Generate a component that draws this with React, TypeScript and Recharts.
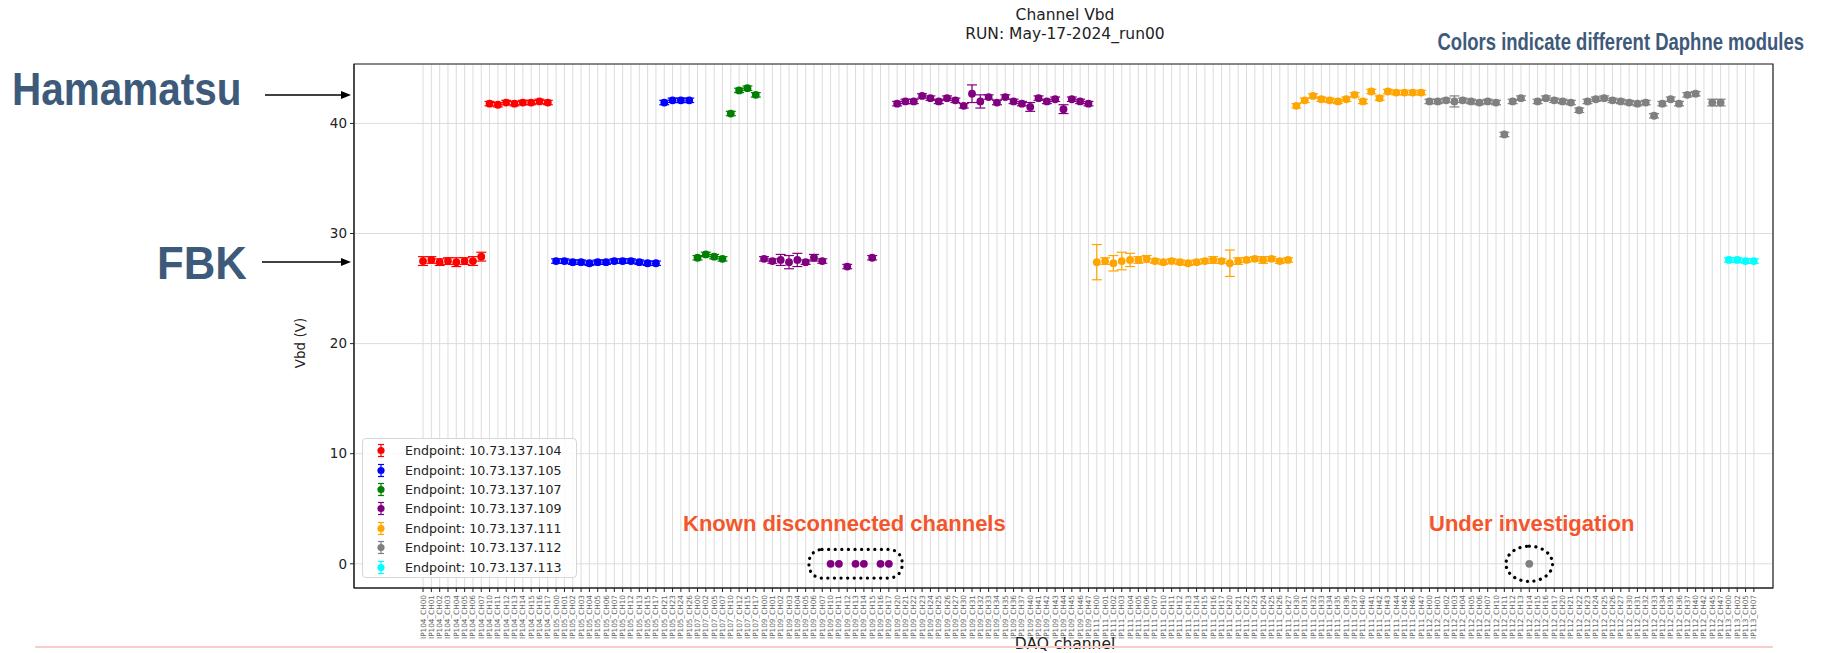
import { CartesianGrid, ErrorBar, ReferenceArea, Scatter, ScatterChart, XAxis, YAxis } from "recharts";

// channels per endpoint, in the order they sit along the x axis
const ip104Channels = ["CH00", "CH01", "CH02", "CH03", "CH04", "CH05", "CH06", "CH07", "CH10", "CH11", "CH12", "CH13", "CH14", "CH15", "CH16", "CH17"];
const ip105Channels = ["CH00", "CH01", "CH02", "CH03", "CH04", "CH05", "CH06", "CH07", "CH10", "CH12", "CH13", "CH15", "CH17", "CH21", "CH23", "CH24", "CH26"];
const ip107Channels = ["CH00", "CH02", "CH05", "CH07", "CH10", "CH12", "CH15", "CH17"];
const ip109Channels = [
  "CH00", "CH01", "CH02", "CH03", "CH04", "CH05", "CH06", "CH07",
  "CH10", "CH11", "CH12", "CH13", "CH14", "CH15", "CH16", "CH17",
  "CH20", "CH21", "CH22", "CH23", "CH24", "CH25", "CH26", "CH27",
  "CH30", "CH31", "CH32", "CH33", "CH34", "CH35", "CH36", "CH37",
  "CH40", "CH41", "CH42", "CH43", "CH44", "CH45", "CH46", "CH47",
];
const ip111Channels = [
  "CH00", "CH01", "CH02", "CH03", "CH04", "CH05", "CH06", "CH07",
  "CH10", "CH11", "CH12", "CH13", "CH14", "CH15", "CH16", "CH17",
  "CH20", "CH21", "CH22", "CH23", "CH24", "CH25", "CH26", "CH27",
  "CH30", "CH31", "CH32", "CH33", "CH34", "CH35", "CH36", "CH37",
  "CH40", "CH41", "CH42", "CH43", "CH44", "CH45", "CH46", "CH47",
];
const ip112Channels = [
  "CH00", "CH01", "CH02", "CH03", "CH04", "CH05", "CH06", "CH07",
  "CH10", "CH11", "CH12", "CH13", "CH14", "CH15", "CH16", "CH17",
  "CH20", "CH21", "CH22", "CH23", "CH24", "CH25", "CH26", "CH27",
  "CH30", "CH31", "CH32", "CH33", "CH34", "CH35", "CH36", "CH37",
  "CH40", "CH42", "CH45", "CH47",
];
const ip113Channels = ["CH00", "CH02", "CH05", "CH07"];

// breakdown voltage (V) per channel, null = no fit
const ip104Vbd = [27.5, 27.6, 27.4, 27.5, 27.4, 27.5, 27.5, 27.9, 41.8, 41.7, 41.9, 41.8, 41.9, 41.9, 42.0, 41.9];
const ip105Vbd = [27.5, 27.5, 27.4, 27.4, 27.3, 27.4, 27.4, 27.5, 27.5, 27.5, 27.4, 27.3, 27.3, 41.9, 42.1, 42.1, 42.1];
const ip107Vbd = [27.8, 28.1, 27.9, 27.7, 40.9, 43.0, 43.2, 42.6];
const ip109Vbd = [
  27.7, 27.5, 27.6, 27.4, 27.6, 27.4, 27.8, 27.5,
  0, 0, 27.0, 0, 0, 27.8, 0, 0,
  41.8, 42.0, 42.0, 42.5, 42.3, 42.0, 42.3, 42.1,
  41.6, 42.7, 42.0, 42.4, 41.9, 42.4, 42.0, 41.8,
  41.5, 42.3, 42.0, 42.2, 41.3, 42.2, 42.0, 41.8,
];
const ip111Vbd = [
  27.4, 27.5, 27.3, 27.5, 27.6, 27.6, 27.7, 27.5,
  27.4, 27.5, 27.4, 27.3, 27.4, 27.5, 27.6, 27.5,
  27.3, 27.5, 27.6, 27.7, 27.6, 27.7, 27.5, 27.6,
  41.6, 42.1, 42.5, 42.2, 42.1, 42.0, 42.2, 42.6,
  42.0, 42.9, 42.3, 42.9, 42.8, 42.8, 42.8, 42.8,
];
const ip112Vbd = [
  42.0, 42.0, 42.1, 42.0, 42.1, 42.0, 41.9, 42.0,
  41.9, 39.0, 42.0, 42.3, 0, 42.0, 42.3, 42.1,
  42.0, 41.9, 41.2, 42.0, 42.2, 42.3, 42.1, 42.0,
  41.9, 41.8, 41.9, 40.7, 41.8, 42.2, 41.8, 42.6,
  42.7, null, 41.9, 41.9,
];
const ip113Vbd = [27.6, 27.6, 27.5, 27.5];

// fit uncertainty (V)
const ip104Err = [0.4, 0.3, 0.3, 0.3, 0.4, 0.3, 0.4, 0.4, 0.2, 0.2, 0.2, 0.2, 0.2, 0.2, 0.2, 0.2];
const ip105Err = [0.2, 0.2, 0.2, 0.2, 0.2, 0.2, 0.2, 0.2, 0.2, 0.2, 0.2, 0.2, 0.2, 0.2, 0.2, 0.2, 0.2];
const ip107Err = [0.2, 0.2, 0.2, 0.2, 0.2, 0.2, 0.2, 0.2];
const ip109Err = [
  0.2, 0.2, 0.5, 0.6, 0.6, 0.2, 0.3, 0.2,
  0, 0, 0.2, 0, 0, 0.2, 0, 0,
  0.2, 0.2, 0.2, 0.2, 0.2, 0.2, 0.2, 0.2,
  0.2, 0.8, 0.6, 0.2, 0.2, 0.2, 0.2, 0.2,
  0.4, 0.2, 0.2, 0.2, 0.4, 0.2, 0.2, 0.2,
];
const ip111Err = [
  1.6, 0.3, 0.7, 0.8, 0.6, 0.3, 0.3, 0.2,
  0.2, 0.2, 0.2, 0.2, 0.2, 0.2, 0.3, 0.2,
  1.2, 0.3, 0.2, 0.2, 0.3, 0.2, 0.2, 0.2,
  0.2, 0.2, 0.2, 0.2, 0.2, 0.2, 0.2, 0.2,
  0.2, 0.2, 0.2, 0.2, 0.2, 0.2, 0.2, 0.2,
];
const ip112Err = [
  0.2, 0.2, 0.2, 0.5, 0.2, 0.2, 0.2, 0.2,
  0.2, 0.2, 0.2, 0.2, 0, 0.2, 0.2, 0.2,
  0.2, 0.2, 0.2, 0.2, 0.2, 0.2, 0.2, 0.2,
  0.2, 0.2, 0.2, 0.2, 0.2, 0.2, 0.2, 0.2,
  0.2, 0, 0.3, 0.3,
];
const ip113Err = [0.2, 0.2, 0.2, 0.2];

const endpoints = [
  { tag: "IP104", name: "Endpoint: 10.73.137.104", color: "#ff0000", channels: ip104Channels, vbd: ip104Vbd, err: ip104Err },
  { tag: "IP105", name: "Endpoint: 10.73.137.105", color: "#0000ff", channels: ip105Channels, vbd: ip105Vbd, err: ip105Err },
  { tag: "IP107", name: "Endpoint: 10.73.137.107", color: "#008000", channels: ip107Channels, vbd: ip107Vbd, err: ip107Err },
  { tag: "IP109", name: "Endpoint: 10.73.137.109", color: "#800080", channels: ip109Channels, vbd: ip109Vbd, err: ip109Err },
  { tag: "IP111", name: "Endpoint: 10.73.137.111", color: "#ffa500", channels: ip111Channels, vbd: ip111Vbd, err: ip111Err },
  { tag: "IP112", name: "Endpoint: 10.73.137.112", color: "#808080", channels: ip112Channels, vbd: ip112Vbd, err: ip112Err },
  { tag: "IP113", name: "Endpoint: 10.73.137.113", color: "#00ffff", channels: ip113Channels, vbd: ip113Vbd, err: ip113Err },
];

// every channel gets one slot on the categorical x axis
const tickLabels: string[] = [];
const series = endpoints.map((ep) => {
  const points: { x: number; vbd: number; err: number }[] = [];
  ep.channels.forEach((ch, i) => {
    const x = tickLabels.length;
    tickLabels.push(`${ep.tag}_${ch}`);
    const v = ep.vbd[i];
    if (v !== null && v !== undefined) points.push({ x, vbd: v, err: ep.err[i] });
  });
  return { ...ep, points };
});
const tickIdx = tickLabels.map((_, i) => i);
const xDomain = [-8.3, tickLabels.length + 1.3];
const yDomain = [-2.2, 45.4];

const SLIDE = "#3d5a7a";
const NOTE = "#f4552a";
const MPL = "'DejaVu Sans', sans-serif";
const ARIAL = "'Liberation Sans', Arial, sans-serif";

function ChannelTick({ x, y, payload }: any) {
  return (
    <text x={x} y={y} transform={`rotate(-90 ${x} ${y})`} textAnchor="end" dominantBaseline="central" fontSize={7.3} fontFamily={MPL} fill="#666">
      {tickLabels[payload.value]}
    </text>
  );
}

const dot = (color: string) => (p: any) => <circle cx={p.cx} cy={p.cy} r={3.9} fill={color} />;

const dottedRound = (round: boolean) => (p: any) => (
  <rect
    x={p.x}
    y={p.y}
    width={p.width}
    height={p.height}
    rx={round ? p.width / 2 : 13}
    ry={round ? p.height / 2 : 13}
    fill="none"
    stroke="#000"
    strokeWidth={3.2}
    strokeLinecap="round"
    strokeDasharray="0.1 6.5"
  />
);

function EndpointLegend() {
  return (
    <div style={{ position: "absolute", left: 362, top: 438, width: 215, height: 140, border: "1px solid #d6d6d6", borderRadius: 4, background: "rgba(255,255,255,0.85)", boxSizing: "border-box", paddingTop: 2 }}>
      {endpoints.map((ep) => (
        <div key={ep.tag} style={{ display: "flex", alignItems: "center", height: 19.4 }}>
          <svg width={34} height={19} style={{ flex: "none" }}>
            <line x1={18} x2={18} y1={3.5} y2={15.5} stroke={ep.color} strokeWidth={1.2} />
            <line x1={15} x2={21} y1={3.5} y2={3.5} stroke={ep.color} strokeWidth={1.2} />
            <line x1={15} x2={21} y1={15.5} y2={15.5} stroke={ep.color} strokeWidth={1.2} />
            <circle cx={18} cy={9.5} r={3.6} fill={ep.color} />
          </svg>
          <span style={{ fontFamily: MPL, fontSize: 12.6, color: "#222", whiteSpace: "nowrap", marginLeft: 8 }}>{ep.name}</span>
        </div>
      ))}
    </div>
  );
}

function Arrow({ x1, x2, y }: { x1: number; x2: number; y: number }) {
  return (
    <svg style={{ position: "absolute", left: 0, top: 0, overflow: "visible" }} width={1} height={1}>
      <line x1={x1} x2={x2 - 8} y1={y} y2={y} stroke="#000" strokeWidth={1.6} />
      <polygon points={`${x2},${y} ${x2 - 10},${y - 4} ${x2 - 10},${y + 4}`} fill="#000" />
    </svg>
  );
}

export default function App() {
  return (
    <div style={{ position: "absolute", left: 0, top: 0, width: 1821, height: 653, overflow: "hidden", background: "#fff" }}>
      <ScatterChart width={1821} height={653} margin={{ top: 64, right: 48, bottom: 5, left: 294 }}>
        <CartesianGrid stroke="#dcdcdc" strokeWidth={1} />
        <XAxis
          type="number"
          dataKey="x"
          domain={xDomain}
          ticks={tickIdx}
          interval={0}
          allowDataOverflow
          height={60}
          tickSize={4}
          tickMargin={3}
          tick={<ChannelTick />}
          axisLine={{ stroke: "#222" }}
          tickLine={{ stroke: "#222" }}
        />
        <YAxis
          type="number"
          dataKey="vbd"
          domain={yDomain}
          ticks={[0, 10, 20, 30, 40]}
          allowDataOverflow
          width={60}
          tickSize={4}
          tickMargin={3}
          tick={{ fontSize: 13.5, fontFamily: MPL, fill: "#222" }}
          axisLine={{ stroke: "#222" }}
          tickLine={{ stroke: "#222" }}
        />
        <ReferenceArea x1={xDomain[0]} x2={xDomain[1]} y1={yDomain[0]} y2={yDomain[1]} fill="none" stroke="#222" strokeWidth={1.2} ifOverflow="visible" />
        {series.map((s) => (
          <Scatter key={s.tag} name={s.name} data={s.points} fill={s.color} shape={dot(s.color)} isAnimationActive={false}>
            <ErrorBar dataKey="err" direction="y" width={5} stroke={s.color} strokeWidth={1.2} />
          </Scatter>
        ))}
        <ReferenceArea x1={46.4} x2={57.6} y1={-1.3} y2={1.3} ifOverflow="visible" shape={dottedRound(false)} />
        <ReferenceArea x1={130.2} x2={135.8} y1={-1.6} y2={1.6} ifOverflow="visible" shape={dottedRound(true)} />
      </ScatterChart>

      <EndpointLegend />

      <div style={{ position: "absolute", left: 965, top: 6, width: 200, textAlign: "center", fontFamily: MPL, fontSize: 15.5, lineHeight: "19px", color: "#222" }}>
        Channel Vbd
        <br />
        RUN: May-17-2024_run00
      </div>
      <div style={{ position: "absolute", left: 300, top: 343, transform: "translate(-50%,-50%) rotate(-90deg)", fontFamily: MPL, fontSize: 13.5, color: "#222", whiteSpace: "nowrap" }}>
        Vbd (V)
      </div>
      <div style={{ position: "absolute", left: 965, top: 635, width: 200, textAlign: "center", fontFamily: MPL, fontSize: 15.5, lineHeight: "18px", color: "#222" }}>DAQ channel</div>

      <div style={{ position: "absolute", left: 12, top: 62, fontFamily: ARIAL, fontWeight: 700, fontSize: 46, color: SLIDE, transform: "scaleX(0.88)", transformOrigin: "left" }}>Hamamatsu</div>
      <div style={{ position: "absolute", left: 157, top: 236, fontFamily: ARIAL, fontWeight: 700, fontSize: 46, color: SLIDE, transform: "scaleX(0.95)", transformOrigin: "left" }}>FBK</div>
      <div style={{ position: "absolute", right: 17, top: 28, fontFamily: ARIAL, fontWeight: 700, fontSize: 24, color: SLIDE, transform: "scaleX(0.77)", transformOrigin: "right", whiteSpace: "nowrap" }}>
        Colors indicate different Daphne modules
      </div>
      <Arrow x1={265} x2={351} y={95} />
      <Arrow x1={262} x2={351} y={262} />

      <div style={{ position: "absolute", left: 683, top: 511, fontFamily: ARIAL, fontWeight: 700, fontSize: 22, color: NOTE, whiteSpace: "nowrap" }}>Known disconnected channels</div>
      <div style={{ position: "absolute", left: 1429, top: 511, fontFamily: ARIAL, fontWeight: 700, fontSize: 22, color: NOTE, whiteSpace: "nowrap" }}>Under investigation</div>

      <div style={{ position: "absolute", left: 35, top: 646, width: 1738, height: 2, background: "#f7cfc6" }} />
    </div>
  );
}
